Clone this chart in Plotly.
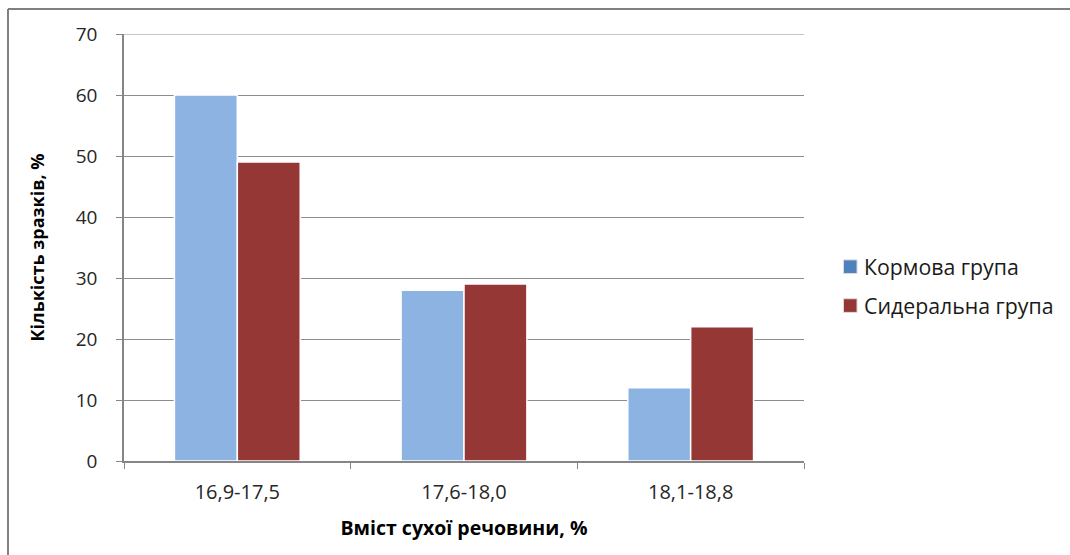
import plotly.graph_objects as go

# Dry-matter content ranges and share of samples in each group
categories = ["16,9-17,5", "17,6-18,0", "18,1-18,8"]
series_names = ["Кормова група", "Сидеральна група"]
kormova = [60, 28, 12]
syderalna = [49, 29, 22]
y_ticks = [0, 10, 20, 30, 40, 50, 60, 70]

bar_colors = ["#8DB3E2", "#953735"]
swatch_colors = ["#4F81BD", "#953735"]
font_family = "Open Sans, DejaVu Sans, sans-serif"

fig = go.Figure()
for name, vals, col in zip(series_names, [kormova, syderalna], bar_colors):
    fig.add_trace(go.Bar(
        x=categories, y=vals, name=name,
        marker=dict(color=col, line=dict(color="white", width=1.5)),
        showlegend=False,
    ))

# Legend drawn as swatches with labels to the right of the plot
legend_y = [0.455, 0.364]
for name, col, yy in zip(series_names, swatch_colors, legend_y):
    fig.add_shape(type="rect", xref="paper", yref="paper",
                  x0=1.058, x1=1.078, y0=yy - 0.016, y1=yy + 0.016,
                  fillcolor=col, line=dict(color="#dddddd", width=1))
    fig.add_annotation(xref="paper", yref="paper", x=1.086, y=yy,
                       text=name, showarrow=False, xanchor="left", yanchor="middle",
                       font=dict(family=font_family, size=21.3, color="#1a1a1a"))

# Top gridline at the upper end of the value axis
fig.add_shape(type="line", xref="paper", yref="y", x0=0, x1=1, y0=70, y1=70,
              line=dict(color="#8c8c8c", width=1))

# Outer chart frame (top and left edges)
fig.add_shape(type="line", xref="paper", yref="paper",
              x0=-0.1706, x1=1.5, y0=1.0585, y1=1.0585,
              line=dict(color="#808080", width=2))
fig.add_shape(type="line", xref="paper", yref="paper",
              x0=-0.1706, x1=-0.1706, y0=1.0585, y1=-0.4,
              line=dict(color="#808080", width=2))

fig.update_layout(
    width=1070, height=555,
    margin=dict(l=124, r=266, t=34, b=94),
    paper_bgcolor="white", plot_bgcolor="white",
    barmode="group", bargap=0.445, bargroupgap=0,
    font=dict(family=font_family, color="#1a1a1a"),
    xaxis=dict(
        showline=True, linecolor="#868686", linewidth=1.5,
        ticks="outside", ticklen=6, tickcolor="#868686",
        tickson="boundaries", ticklabelstandoff=12,
        tickfont=dict(size=20, color="#262626"),
        title=dict(text="<b>Вміст сухої речовини, %</b>", font=dict(size=19.5, color="#000"), standoff=18),
    ),
    yaxis=dict(
        range=[0, 70], tickvals=y_ticks,
        showline=True, linecolor="#868686", linewidth=1.5,
        ticks="outside", ticklen=6, tickcolor="#868686",
        showgrid=True, gridcolor="#8c8c8c", gridwidth=1,
        zeroline=False, ticklabelstandoff=15,
        tickfont=dict(size=19, color="#262626"),
        title=dict(text="<b>Кількість зразків, %</b>", font=dict(size=18, color="#000"), standoff=26),
    ),
)

fig.write_html("out.html")
